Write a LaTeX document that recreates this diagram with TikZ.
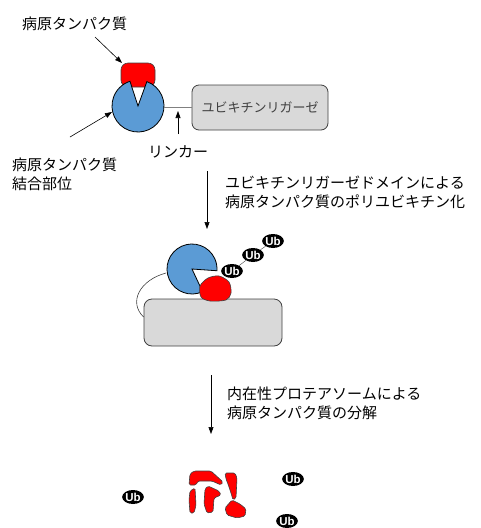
\documentclass[tikz,border=0pt]{standalone}
\usepackage{fontspec}
\newfontfamily\jpfont{Noto Sans CJK JP}
\newfontfamily\ubfont{Liberation Sans}
\usetikzlibrary{arrows.meta,shapes.geometric}
\definecolor{pacblue}{HTML}{5B9BD5}
\definecolor{plategray}{HTML}{D9D9D9}
\definecolor{edgegray}{HTML}{404040}

\begin{document}
\begin{tikzpicture}[x=1pt,y=-1pt,
    lbl/.style={font=\jpfont\fontsize{15}{19}\selectfont, inner sep=0pt, anchor=west, align=left},
    ptr/.style={-{Triangle[length=7pt,width=5pt]}, line width=0.6pt},
    plate/.style={draw=edgegray, fill=plategray, rounded corners=7pt, line width=0.8pt, inner sep=0pt},
    binder/.style={draw=black, fill=pacblue, line width=0.8pt},
    protein/.style={draw=edgegray, fill=red, line width=0.6pt},
    ub/.style={ellipse, fill=black, text=white, inner sep=0pt, minimum width=17pt, minimum height=14pt,
      font=\ubfont\bfseries\fontsize{11.5}{11.5}\selectfont},
    link/.style={draw=gray, line width=0.9pt}]
  \useasboundingbox (0,0) rectangle (480,528);

  % --- chimeric molecule: binder + linker + ligase
  \node[plate, minimum width=136pt, minimum height=45pt, text=edgegray,
        font=\jpfont\fontsize{13}{13}\selectfont] (ligase) at (260,107.5) {ユビキチンリガーゼ};
  \draw[protein, rounded corners=7pt] (121,63) rectangle (155,87);
  \draw[binder] (138,106) -- ++(-70:26) arc[start angle=-70, end angle=252, radius=26] -- cycle;
  \coordinate (pacR) at (164,107);
  \draw[link] (pacR) -- (ligase.west |- pacR);

  \node[lbl] (target) at (22,24) {病原タンパク質};
  \coordinate (targetA) at (95,37);
  \coordinate (targetB) at (122,63);
  \draw[ptr] (targetA) -- (targetB);

  \node[lbl] (site) at (12,174) {病原タンパク質\\結合部位};
  \coordinate (siteA) at (70,137);
  \coordinate (siteB) at (112,112);
  \draw[ptr] (siteA) -- (siteB);

  \node[lbl] (linker) at (148,152) {リンカー};
  \coordinate (linkerA) at (178,134);
  \coordinate (linkerB) at (178,111);
  \draw[ptr] (linkerA) -- (linkerB);

  % --- step 1
  \coordinate (s1top) at (207,171);
  \coordinate (s1bot) at (207,229);
  \draw[ptr] (s1top) -- (s1bot);
  \node[lbl] (step1) at (225,192.5) {ユビキチンリガーゼドメインによる\\病原タンパク質のポリユビキチン化};

  \node[plate, rounded corners=8pt, minimum width=138pt, minimum height=47pt] (ligase2) at (213,322.5) {};
  \coordinate (tetherA) at (166,273);
  \draw[edgegray, line width=0.6pt] (tetherA) .. controls (140,280) and (128,302) .. (ligase2.west |- 0,317);
  \draw[binder] (192,269) -- ++(65:25) arc[start angle=65, end angle=364, radius=25] -- cycle;
  \draw[protein] plot[smooth cycle] coordinates {(200,286) (208,278) (219,276) (229,282) (231,293) (226,300) (210,301) (201,297)};
  \coordinate (tagged) at (226,277);
  \node[ub] (ub1) at (232,271) {Ub};
  \node[ub] (ub2) at (253,255) {Ub};
  \node[ub] (ub3) at (273,241) {Ub};
  \draw[edgegray] (tagged) -- (ub1) -- (ub2) -- (ub3);

  % --- step 2
  \coordinate (s2top) at (211,375);
  \coordinate (s2bot) at (211,434);
  \draw[ptr] (s2top) -- (s2bot);
  \node[lbl] (step2) at (227,403) {内在性プロテアソームによる\\病原タンパク質の分解};

  % fragments and released Ub
  \begin{scope}[rounded corners=1.5pt]
    \draw[protein] (189,485) -- (190,474) -- (194,471) -- (211,471) -- (223,482) -- (221,485) -- (212,481) -- (198,481) -- (196,485) -- cycle;
    \draw[protein] (225,473) -- (235,473) -- (237,478) -- (236,498) -- (233,500) -- (231,493) -- (228,484) -- (226,479) -- cycle;
    \draw[protein] (190,491) -- (195,488) -- (196,505) -- (194,513) -- (190,513) -- (189,500) -- cycle;
    \draw[protein] (205,489) -- (208,486) -- (219,491) -- (221,495) -- (214,498) -- (213,512) -- (207,513) -- (204,504) -- cycle;
    \draw[protein] (225,508) -- (232,500) -- (240,504) -- (246,509) -- (245,516) -- (237,518) -- (227,515) -- cycle;
  \end{scope}
  \node[ub] (ubfree1) at (133,497) {Ub};
  \node[ub] (ubfree2) at (293,479) {Ub};
  \node[ub] (ubfree3) at (287,521) {Ub};
\end{tikzpicture}
\end{document}
